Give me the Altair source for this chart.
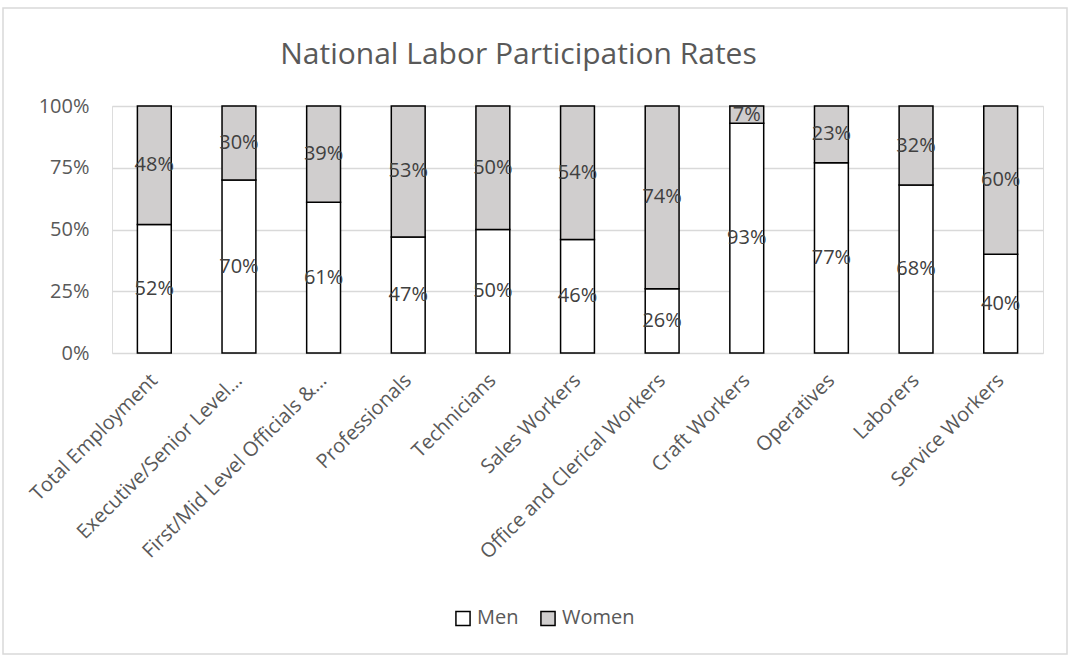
import altair as alt
import pandas as pd

categories = ["Total Employment", "Executive/Senior Level…", "First/Mid Level Officials &…",
              "Professionals", "Technicians", "Sales Workers", "Office and Clerical Workers",
              "Craft Workers", "Operatives", "Laborers", "Service Workers"]
men = [52, 70, 61, 47, 50, 46, 26, 93, 77, 68, 40]
women = [48, 30, 39, 53, 50, 54, 74, 7, 23, 32, 60]
series = ["Men", "Women"]
series_colors = ["#ffffff", "#d0cece"]

rows = []
for c, m, w in zip(categories, men, women):
    rows.append({"category": c, "series": "Men", "value": m, "order": 0})
    rows.append({"category": c, "series": "Women", "value": w, "order": 1})
df = pd.DataFrame(rows)

FONT = "Open Sans"
W, H = 931, 247
LEFT, TOP = 112, 106

base = alt.Chart(df).transform_stack(
    stack="value", groupby=["category"], as_=["y0", "y1"],
    sort=[alt.SortField("order", "ascending")]
).transform_calculate(mid="(datum.y0 + datum.y1) / 2")

x_enc = alt.X("category:N", sort=categories, title=None,
              scale=alt.Scale(paddingInner=0.6, paddingOuter=0.3),
              axis=alt.Axis(labelAngle=-45, labelAlign="right", labelBaseline="middle",
                            labelFontSize=20, labelColor="#595959", labelFont=FONT,
                            labelPadding=24, ticks=False, domain=False, grid=False,
                            labelLimit=400))

bars = base.mark_bar(stroke="black", strokeWidth=1.5).encode(
    x=x_enc,
    y=alt.Y("y0:Q", title=None, scale=alt.Scale(domain=[0, 100], nice=False),
            axis=alt.Axis(values=[0, 25, 50, 75, 100], labelExpr="datum.value + '%'",
                          labelFontSize=20, labelColor="#595959", labelFont=FONT,
                          ticks=False, domain=False, gridColor="#d9d9d9",
                          gridWidth=1.5, labelPadding=23)),
    y2="y1:Q",
    fill=alt.Fill("series:N", scale=alt.Scale(domain=series, range=series_colors),
                  legend=alt.Legend(title=None, orient="none", direction="horizontal",
                                    legendX=341, legendY=502,
                                    symbolType="square", symbolSize=200,
                                    symbolStrokeColor="black", symbolStrokeWidth=1.5,
                                    labelFontSize=20, labelFont=FONT, labelColor="#595959",
                                    columnPadding=18, labelOffset=4)),
)

labels = base.mark_text(fontSize=20, font=FONT, color="#404040", baseline="middle").encode(
    x=alt.X("category:N", sort=categories),
    y=alt.Y("mid:Q"),
    text=alt.Text("label:N"),
).transform_calculate(label="datum.value + '%'")

border_df = pd.DataFrame({"k": [0]})
border = alt.Chart(border_df).mark_rect(fill=None, stroke="#d9d9d9", strokeWidth=1.5).encode(
    x=alt.value(-109), x2=alt.value(955), y=alt.value(-98), y2=alt.value(548)
)

chart = alt.layer(border, bars, labels).properties(
    width=W, height=H,
    autosize=alt.AutoSizeParams(type="none"),
    padding={"left": LEFT, "top": TOP, "right": 1069 - LEFT - W, "bottom": 656 - TOP - H},
    title=alt.TitleParams("National Labor Participation Rates", fontSize=30, font=FONT,
                          color="#595959", fontWeight="normal", anchor="middle",
                          offset=0, dy=63, dx=-59),
).configure_view(stroke=None).configure(background="white")

chart.save("out.html", embed_options={"renderer": "svg", "actions": False})
